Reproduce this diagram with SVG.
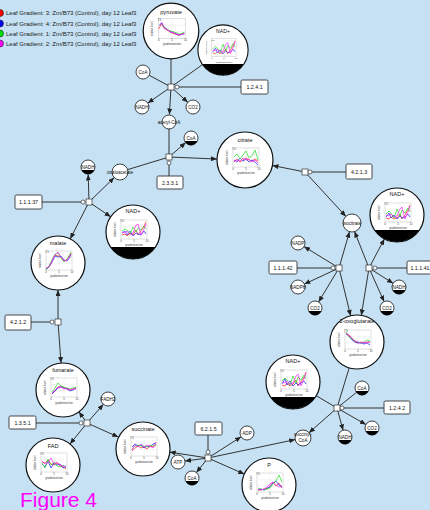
<svg xmlns="http://www.w3.org/2000/svg" xmlns:xlink="http://www.w3.org/1999/xlink" width="430" height="510" viewBox="0 0 430 510">
<style>
text{font-family:"Liberation Sans",Arial,sans-serif;fill:#111}
.big{fill:#fff;stroke:#111;stroke-width:1.2}
.sm{fill:#fff;stroke:#111;stroke-width:0.8}
.blk{fill:#000}
.ttl{font-size:5.5px;text-anchor:middle}
.st{font-size:4.6px;text-anchor:middle}
.lbl{font-size:5.3px;text-anchor:middle}
.box{fill:#fff;stroke:#333;stroke-width:0.9}
.rx{fill:#fff;stroke:#333;stroke-width:0.7}
.mod{fill:#fff;stroke:#333;stroke-width:0.7}
.c{fill:none;stroke:#333;stroke-width:1}
.a{fill:none;stroke:#333;stroke-width:1;marker-end:url(#ah)}
.r{fill:none;stroke:#ff2020;stroke-width:0.7}
.b{fill:none;stroke:#2020ff;stroke-width:0.7}
.g{fill:none;stroke:#20e020;stroke-width:0.7}
.m{fill:none;stroke:#ff20ff;stroke-width:0.7}
.tk{font-size:2.6px;fill:#333}
.leg{font-size:6px;fill:#222}
</style>
<defs>
<marker id="ah" markerUnits="userSpaceOnUse" markerWidth="6" markerHeight="5" refX="6" refY="2.5" orient="auto"><path d="M0,0 L6,2.5 L0,5 Z" fill="#222"/></marker>
<g id="frame">
<rect x="-12" y="-12" width="26" height="19" fill="#fff" stroke="#999" stroke-width="0.3"/>
<path d="M1,-12V7M-12,-5.7H14M-12,0.7H14" stroke="#ddd" stroke-width="0.3" fill="none"/>
<text class="tk" x="-12" y="10" text-anchor="middle">0</text>
<text class="tk" x="1" y="10" text-anchor="middle">5</text>
<text class="tk" x="14" y="10" text-anchor="middle">10</text>
<text class="tk" x="1" y="13.5" text-anchor="middle">gradientsection</text>
<text class="tk" x="-13" y="-10">7.5</text>
<text class="tk" transform="translate(-17,-2) rotate(-90)" text-anchor="middle">relative level</text>
</g>
</defs>
<rect width="430" height="510" fill="#c5e1f3"/>

<g id="legend">
<circle cx="0" cy="13" r="3.5" fill="#ff0000" stroke="#222" stroke-width="0.6"/>
<circle cx="0" cy="23.5" r="3.5" fill="#0000ff" stroke="#222" stroke-width="0.6"/>
<circle cx="0" cy="33.5" r="3.5" fill="#00dd00" stroke="#222" stroke-width="0.6"/>
<circle cx="0" cy="43.5" r="3.5" fill="#ff00ff" stroke="#222" stroke-width="0.6"/>
<text class="leg" x="6" y="15">Leaf Gradient: 3: Zm/B73 (Control), day 12 Leaf3</text>
<text class="leg" x="6" y="25.5">Leaf Gradient: 4: Zm/B73 (Control), day 12 Leaf3</text>
<text class="leg" x="6" y="35.5">Leaf Gradient: 1: Zm/B73 (Control), day 12 Leaf3</text>
<text class="leg" x="6" y="45.5">Leaf Gradient: 2: Zm/B73 (Control), day 12 Leaf3</text>
</g>

<g id="connectors">
<path class="c" d="M171,59V87"/>
<path class="c" d="M202.6,64.5L171,87"/>
<path class="c" d="M149.2,75.3L171,87"/>
<path class="a" d="M171,87L147.8,103"/>
<path class="a" d="M171,87L187.8,102.3"/>
<path class="a" d="M171,87L169.4,114.5"/>
<path class="c" d="M179,87H241"/>
<path class="c" d="M169,129V157"/>
<path class="c" d="M127.7,169.6L169,157"/>
<path class="a" d="M169,157L185.7,142.6"/>
<path class="a" d="M169,157L217,159"/>
<path class="c" d="M169,165V176"/>
<path class="c" d="M81,202H42"/>
<path class="a" d="M89,202L88.2,174.5"/>
<path class="a" d="M89,202L114.2,177.6"/>
<path class="a" d="M89,202L70.2,238.9"/>
<path class="a" d="M89,202L110.7,216.8"/>
<path class="c" d="M50,322H31"/>
<path class="a" d="M58,322V290"/>
<path class="a" d="M58,322L61,363"/>
<path class="c" d="M79,423H36"/>
<path class="a" d="M87,423L78.9,411.8"/>
<path class="a" d="M87,423L103.4,404.3"/>
<path class="a" d="M87,423L70,444"/>
<path class="a" d="M87,423L118.3,437"/>
<path class="c" d="M208,450V435"/>
<path class="a" d="M208,458L169.7,452.1"/>
<path class="a" d="M208,458L185,461"/>
<path class="a" d="M208,458L196.4,472.5"/>
<path class="a" d="M208,458L241.1,436.8"/>
<path class="a" d="M208,458L244.3,474.1"/>
<path class="a" d="M208,458L295.2,439.6"/>
<path class="c" d="M349.2,367.8L337,408"/>
<path class="c" d="M316.2,395.7L337,408"/>
<path class="c" d="M356.5,392.4L337,408"/>
<path class="a" d="M337,408L309,432.7"/>
<path class="a" d="M337,408L343.1,430.3"/>
<path class="a" d="M337,408L365.9,424.5"/>
<path class="c" d="M344,408H384"/>
<path class="a" d="M305,172L272.5,165.5"/>
<path class="a" d="M305,172L345.9,216.4"/>
<path class="c" d="M312,172H346"/>
<path class="c" d="M331,268H297"/>
<path class="a" d="M339,268L349.5,231.7"/>
<path class="a" d="M339,268L350.6,315.8"/>
<path class="a" d="M339,268L304,246.6"/>
<path class="a" d="M339,268L304.3,284.1"/>
<path class="a" d="M339,268L318.6,302"/>
<path class="c" d="M377,268H407"/>
<path class="a" d="M369,268L354.5,231.5"/>
<path class="a" d="M369,268L361.3,315.4"/>
<path class="a" d="M369,268L384.4,238.9"/>
<path class="a" d="M369,268L393.1,283.3"/>
<path class="a" d="M369,268L384.1,301.6"/>
</g>

<g id="reactions">
<g id="r1241"><rect class="rx" x="168" y="84" width="6" height="6"/><circle class="mod" cx="177" cy="87" r="2"/><rect class="box" x="241" y="80" width="27" height="14" rx="1.5"/><text class="lbl" x="254.5" y="89">1.2.4.1</text></g>
<g id="r2331"><rect class="rx" x="166" y="154" width="6" height="6"/><circle class="mod" cx="169" cy="163" r="2"/><rect class="box" x="157" y="176" width="26" height="13" rx="1.5"/><text class="lbl" x="170" y="184.5">2.3.3.1</text></g>
<g id="r11137"><rect class="rx" x="86" y="199" width="6" height="6"/><circle class="mod" cx="83" cy="202" r="2"/><rect class="box" x="15" y="195" width="27" height="14" rx="1.5"/><text class="lbl" x="28.5" y="204">1.1.1.37</text></g>
<g id="r4212"><rect class="rx" x="55" y="319" width="6" height="6"/><circle class="mod" cx="52" cy="322" r="2"/><rect class="box" x="5" y="315" width="26" height="15" rx="1.5"/><text class="lbl" x="18" y="324">4.2.1.2</text></g>
<g id="r1351"><rect class="rx" x="84" y="420" width="6" height="6"/><circle class="mod" cx="81" cy="423" r="2"/><rect class="box" x="9" y="416" width="27" height="13" rx="1.5"/><text class="lbl" x="22.5" y="424.5">1.3.5.1</text></g>
<g id="r6215"><rect class="rx" x="205" y="455" width="6" height="6"/><circle class="mod" cx="208" cy="452" r="2"/><rect class="box" x="195" y="422" width="27" height="13" rx="1.5"/><text class="lbl" x="208.5" y="430.5">6.2.1.5</text></g>
<g id="r1242"><rect class="rx" x="334" y="405" width="6" height="6"/><circle class="mod" cx="342" cy="408" r="2"/><rect class="box" x="384" y="401" width="26" height="13" rx="1.5"/><text class="lbl" x="397" y="409.5">1.2.4.2</text></g>
<g id="r4213"><rect class="rx" x="302" y="169" width="6" height="6"/><circle class="mod" cx="310" cy="172" r="2"/><rect class="box" x="346" y="164" width="26" height="15" rx="1.5"/><text class="lbl" x="359" y="173.5">4.2.1.3</text></g>
<g id="r11142"><rect class="rx" x="336" y="265" width="6" height="6"/><circle class="mod" cx="333" cy="268" r="2"/><rect class="box" x="269" y="261" width="28" height="13" rx="1.5"/><text class="lbl" x="283" y="269.5">1.1.1.42</text></g>
<g id="r11141"><rect class="rx" x="366" y="265" width="6" height="6"/><circle class="mod" cx="375" cy="268" r="2"/><rect class="box" x="407" y="261" width="30" height="13" rx="1.5"/><text class="lbl" x="420" y="269.5">1.1.1.41</text></g>
</g>

<g id="pyruvate" transform="translate(171,31) scale(1.03)">
<circle class="big" r="27"/><text class="ttl" y="-17">pyruvate</text><use xlink:href="#frame"/>
<polyline class="r" points="-12,-2 -9,-7 -7,-3 -4,-1 -2,0 1,2 4,3 7,4 10,3 13,2"/>
<polyline class="b" points="-11,-6 -9,-8 -7,-4 -4,-2 -1,1 2,1 5,3 8,4 11,3 13,3"/>
<polyline class="g" points="-11,-5 -9,-7 -6,-3 -3,-1 0,0 3,1 6,2 9,3 11,2 13,1"/>
<polyline class="m" points="-11,-5 -9,-8 -6,-2 -3,-1 0,1 3,2 6,3 9,4 11,3 13,2"/>
</g>
<g id="nad_top" transform="translate(223,50) scale(0.93)">
<circle class="big" r="27"/><path class="blk" d="M-22.4,15 A27,27 0 0 0 22.4,15 Z"/><text class="ttl" y="-18">NAD+</text><use xlink:href="#frame"/>
<polyline class="r" points="-11,3 -8,4 -6,2 -3,4 0,3 3,-1 5,4 8,0 11,-5 13,-10"/>
<polyline class="b" points="-11,2 -8,-2 -6,3 -3,0 0,4 3,1 5,3 8,2 11,-1 13,2"/>
<polyline class="g" points="-11,-1 -8,-4 -6,-2 -3,3 0,-6 3,1 5,-5 8,-2 11,-7 13,-3"/>
<polyline class="m" points="-11,0 -8,1 -6,-1 -3,2 0,1 3,-6 5,-8 8,4 11,-3 13,-9"/>
</g>
<g id="citrate" transform="translate(245,160)">
<circle class="big" r="28"/><text class="ttl" y="-18">citrate</text><use xlink:href="#frame"/>
<polyline class="r" points="-11,2 -8,-1 -5,2 -2,0 1,-2 4,0 7,1 10,-1 13,1"/>
<polyline class="b" points="-11,0 -8,2 -5,-2 -2,1 1,-1 4,2 7,0 10,2 13,5"/>
<polyline class="g" points="-11,-3 -8,-6 -5,-1 -2,-5 1,-9 4,-2 7,-4 10,-10 13,0"/>
<polyline class="m" points="-11,1 -8,0 -5,1 -2,-2 1,0 4,-1 7,2 10,0 13,3"/>
</g>
<g id="nad_mid" transform="translate(133,232)">
<circle class="big" r="27"/><path class="blk" d="M-22.4,15 A27,27 0 0 0 22.4,15 Z"/><text class="ttl" y="-19">NAD+</text><use xlink:href="#frame"/>
<polyline class="r" points="-11,3 -8,2 -6,4 -3,1 0,3 3,-2 5,3 8,-1 11,-6 13,-10"/>
<polyline class="b" points="-11,1 -8,-1 -6,3 -3,-1 0,4 3,1 5,2 8,3 11,-1 13,2"/>
<polyline class="g" points="-11,-1 -8,-3 -6,-2 -3,2 0,-5 3,0 5,-4 8,-2 11,-6 13,-3"/>
<polyline class="m" points="-11,0 -8,1 -6,-1 -3,3 0,1 3,-7 5,-8 8,3 11,-3 13,-8"/>
</g>
<g id="malate" transform="translate(58,263)">
<circle class="big" r="27"/><text class="ttl" y="-18">malate</text><use xlink:href="#frame"/>
<polyline class="r" points="-12,6 -9,4 -6,-2 -3,-8 0,-7 3,-6 6,-2 9,-3 12,-8 13,-10"/>
<polyline class="b" points="-12,6 -9,4 -6,-1 -3,-7 0,-6 3,-7 6,-3 9,-2 12,-6 13,-9"/>
<polyline class="g" points="-12,7 -9,3 -6,-3 -3,-9 0,-10 3,-5 6,-1 9,-4 12,-9 13,-11"/>
<polyline class="m" points="-12,5 -9,4 -6,-2 -3,-8 0,-11 3,-6 6,-2 9,-3 12,-7 13,-9"/>
</g>
<g id="fumarate" transform="translate(63,390)">
<circle class="big" r="27"/><text class="ttl" y="-18">fumarate</text><use xlink:href="#frame"/>
<polyline class="r" points="-11,4 -8,1 -5,-3 -2,-4 1,-2 4,-1 7,0 10,-1 13,-2"/>
<polyline class="b" points="-11,4 -8,1 -5,-2 -2,-3 1,-2 4,-1 7,1 10,0 13,-2"/>
<polyline class="g" points="-11,2 -8,-2 -5,-7 -2,-4 1,-3 4,-2 7,-1 10,-2 13,-3"/>
<polyline class="m" points="-11,3 -8,0 -5,-3 -2,-3 1,-1 4,-2 7,0 10,-1 13,-1"/>
</g>
<g id="fad" transform="translate(53,465)">
<circle class="big" r="27"/><text class="ttl" y="-17">FAD</text><use xlink:href="#frame"/>
<polyline class="r" points="-11,-3 -8,-2 -5,-5 -2,-1 1,0 4,-2 7,1 10,2 13,4"/>
<polyline class="b" points="-11,-1 -8,2 -5,-4 -2,3 1,-2 4,0 7,-1 10,3 13,1"/>
<polyline class="g" points="-11,-2 -8,3 -5,-6 -2,0 1,-3 4,1 7,2 10,0 13,3"/>
<polyline class="m" points="-11,-4 -8,-1 -5,-2 -2,-7 1,-1 4,-3 7,0 10,1 13,2"/>
</g>
<g id="succinate" transform="translate(143,449)">
<circle class="big" r="27"/><text class="ttl" y="-18">succinate</text><use xlink:href="#frame"/>
<polyline class="r" points="-11,2 -8,-1 -5,-3 -2,-1 1,-2 4,0 7,-3 10,-2 13,-4"/>
<polyline class="b" points="-11,-2 -8,-5 -5,-3 -2,-4 1,-1 4,-3 7,-2 10,-5 13,-6"/>
<polyline class="g" points="-11,0 -8,-3 -5,-4 -2,-3 1,-3 4,-2 7,-4 10,-3 13,-5"/>
<polyline class="m" points="-11,1 -8,-4 -5,-2 -2,-5 1,-2 4,-4 7,-3 10,-1 13,-7"/>
</g>
<g id="p" transform="translate(269,485)">
<circle class="big" r="27"/><text class="ttl" y="-18">P</text><use xlink:href="#frame"/>
<polyline class="r" points="-11,5 -8,5 -5,4 -2,4 1,1 4,-3 7,1 10,-2 13,3"/>
<polyline class="b" points="-11,5 -8,4 -5,5 -2,3 1,2 4,-2 7,-4 10,0 13,2"/>
<polyline class="g" points="-11,3 -8,4 -5,5 -2,4 1,3 4,-1 7,-4 10,-10 13,-3"/>
<polyline class="m" points="-11,4 -8,5 -5,4 -2,2 1,-1 4,-3 7,0 10,2 13,1"/>
</g>
<g id="oxoglutarate" transform="translate(357,342)">
<circle class="big" r="27"/><text class="ttl" y="-19">2-oxoglutarate</text><use xlink:href="#frame"/>
<polyline class="r" points="-11,-9 -8,-7 -5,-3 -2,0 1,1 4,0 7,1 10,0 13,0"/>
<polyline class="b" points="-11,-8 -8,-6 -5,-2 -2,0 1,1 4,1 7,2 10,1 13,3"/>
<polyline class="g" points="-11,-10 -8,-5 -5,-3 -2,-1 1,0 4,1 7,0 10,-2 13,-1"/>
<polyline class="m" points="-11,-9 -8,-6 -5,-4 -2,-1 1,0 4,1 7,0 10,1 13,0"/>
</g>
<g id="nad_bottom" transform="translate(293,382)">
<circle class="big" r="27"/><path class="blk" d="M-22.4,15 A27,27 0 0 0 22.4,15 Z"/><text class="ttl" y="-19">NAD+</text><use xlink:href="#frame"/>
<polyline class="r" points="-11,3 -8,4 -6,1 -3,4 0,2 3,-2 5,4 8,0 11,-5 13,-10"/>
<polyline class="b" points="-11,2 -8,-3 -6,3 -3,-1 0,4 3,1 5,3 8,1 11,-1 13,2"/>
<polyline class="g" points="-11,-1 -8,-4 -6,-2 -3,3 0,-6 3,1 5,-5 8,-2 11,-7 13,-3"/>
<polyline class="m" points="-11,0 -8,1 -6,-1 -3,2 0,1 3,-6 5,-8 8,4 11,-3 13,-9"/>
</g>
<g id="nad_right" transform="translate(397,215)">
<circle class="big" r="27"/><path class="blk" d="M-22.4,15 A27,27 0 0 0 22.4,15 Z"/><text class="ttl" y="-19">NAD+</text><use xlink:href="#frame"/>
<polyline class="r" points="-11,3 -8,4 -6,2 -3,4 0,3 3,-1 5,4 8,0 11,-5 13,-10"/>
<polyline class="b" points="-11,2 -8,-2 -6,3 -3,0 0,4 3,1 5,3 8,2 11,-1 13,2"/>
<polyline class="g" points="-11,-1 -8,-4 -6,-2 -3,3 0,-6 3,1 5,-5 8,-2 11,-7 13,-3"/>
<polyline class="m" points="-11,0 -8,1 -6,-1 -3,2 0,1 3,-6 5,-8 8,4 11,-3 13,-9"/>
</g>

<g id="coa1"><circle class="sm" cx="143" cy="72" r="7"/><text class="st" x="143" y="73.7">CoA</text></g>
<g id="nadh1"><circle class="sm" cx="142" cy="107" r="7"/><text class="st" x="142" y="108.7">NADH</text></g>
<g id="co2_1"><circle class="sm" cx="193" cy="107" r="7"/><text class="st" x="193" y="108.7">CO2</text></g>
<g id="acetylcoa"><circle class="sm" cx="169" cy="122" r="7"/><text class="st" x="169" y="123.7">acetyl-CoA</text></g>
<g id="coa2"><circle class="sm" cx="191" cy="138" r="7"/><path class="blk" d="M184.6,141 A7,7 0 0 0 197.4,141 Z"/><text class="st" x="191" y="139.5">CoA</text></g>
<g id="nadh2"><circle class="sm" cx="88" cy="167" r="7"/><path class="blk" d="M81.6,170 A7,7 0 0 0 94.4,170 Z"/><text class="st" x="88" y="168.5">NADH</text></g>
<g id="oxaloacetate"><circle class="sm" cx="120" cy="172" r="8"/><text class="st" x="120" y="173.7">oxaloacetate</text></g>
<g id="isocitrate"><circle class="sm" cx="352" cy="223" r="9"/><text class="st" x="352" y="224.7">isocitrate</text></g>
<g id="nadp"><circle class="sm" cx="298" cy="243" r="7"/><text class="st" x="298" y="244.7">NADP</text></g>
<g id="nadph"><circle class="sm" cx="298" cy="287" r="7"/><text class="st" x="298" y="288.7">NADPH</text></g>
<g id="co2_2"><circle class="sm" cx="315" cy="308" r="7"/><path class="blk" d="M308.6,311 A7,7 0 0 0 321.4,311 Z"/><text class="st" x="315" y="309.5">CO2</text></g>
<g id="nadh4"><circle class="sm" cx="399" cy="287" r="7"/><path class="blk" d="M392.6,290 A7,7 0 0 0 405.4,290 Z"/><text class="st" x="399" y="288.5">NADH</text></g>
<g id="co2_4"><circle class="sm" cx="387" cy="308" r="7"/><path class="blk" d="M380.6,311 A7,7 0 0 0 393.4,311 Z"/><text class="st" x="387" y="309.5">CO2</text></g>
<g id="coa4"><circle class="sm" cx="362" cy="388" r="7"/><path class="blk" d="M355.6,391 A7,7 0 0 0 368.4,391 Z"/><text class="st" x="362" y="389.5">CoA</text></g>
<g id="co2_3"><circle class="sm" cx="372" cy="428" r="7"/><path class="blk" d="M365.6,431 A7,7 0 0 0 378.4,431 Z"/><text class="st" x="372" y="429.5">CO2</text></g>
<g id="nadh3"><circle class="sm" cx="345" cy="437" r="7"/><path class="blk" d="M338.6,440 A7,7 0 0 0 351.4,440 Z"/><text class="st" x="345" y="438.5">NADH</text></g>
<g id="succinylcoa"><circle class="sm" cx="303" cy="438" r="8"/><text class="st" x="303" y="435.5">succinyl-</text><text class="st" x="303" y="441.5">CoA</text></g>
<g id="fadh2"><circle class="sm" cx="108" cy="399" r="7"/><text class="st" x="108" y="400.7">FADH2</text></g>
<g id="adp"><circle class="sm" cx="247" cy="433" r="7"/><text class="st" x="247" y="434.7">ADP</text></g>
<g id="atp"><circle class="sm" cx="178" cy="462" r="7"/><text class="st" x="178" y="463.7">ATP</text></g>
<g id="coa3"><circle class="sm" cx="192" cy="478" r="7"/><path class="blk" d="M185.6,481 A7,7 0 0 0 198.4,481 Z"/><text class="st" x="192" y="479.5">CoA</text></g>

<text x="20" y="507" font-size="21" style="fill:#ff00ff">Figure 4</text>
</svg>
